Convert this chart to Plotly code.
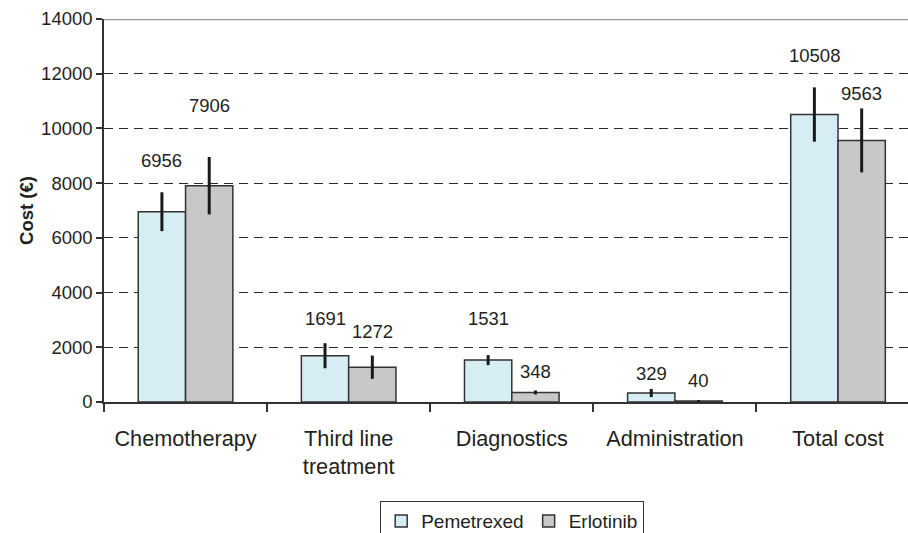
import plotly.graph_objects as go

categories = ["Chemotherapy", "Third line<br>treatment", "Diagnostics", "Administration", "Total cost"]
pemetrexed = [6956, 1691, 1531, 329, 10508]
erlotinib = [7906, 1272, 348, 40, 9563]
pem_err = [710, 457, 183, 150, 993]
erl_err = [1050, 426, 73, 30, 1170]
y_ticks = [0, 2000, 4000, 6000, 8000, 10000, 12000, 14000]

# label heights (text centres, in axis units) - layout only
pem_label_y = [8846, 3070, 3070, 1060, 12648]
erl_label_y = [10856, 2595, 1097, 804, 11295]

FONT = "Liberation Sans, Arial, sans-serif"
bargap = 0.42
half = (1 - bargap) / 4

fig = go.Figure()
fig.add_trace(go.Bar(
    name="Pemetrexed", x=categories, y=pemetrexed,
    marker=dict(color="#D5EDF3", line=dict(color="#333333", width=1.5)),
    error_y=dict(type="data", array=pem_err, visible=True, color="#1a1a1a", thickness=3, width=0),
))
fig.add_trace(go.Bar(
    name="Erlotinib", x=categories, y=erlotinib,
    marker=dict(color="#C8C8C9", line=dict(color="#333333", width=1.5)),
    error_y=dict(type="data", array=erl_err, visible=True, color="#1a1a1a", thickness=3, width=0),
))

annotations = []
for i in range(len(categories)):
    annotations.append(dict(x=i - half, y=pem_label_y[i], xref="x", yref="y", text=str(pemetrexed[i]),
                            showarrow=False, font=dict(family=FONT, size=18.5, color="#231f20")))
    annotations.append(dict(x=i + half, y=erl_label_y[i], xref="x", yref="y", text=str(erlotinib[i]),
                            showarrow=False, font=dict(family=FONT, size=18.5, color="#231f20")))

fig.update_layout(
    width=908, height=533,
    margin=dict(l=104, r=0, t=19, b=131, autoexpand=False),
    paper_bgcolor="white", plot_bgcolor="white",
    barmode="group", bargap=bargap, bargroupgap=0,
    font=dict(family=FONT, color="#231f20"),
    showlegend=True,
    legend=dict(orientation="h", x=380 / 908, xref="container", xanchor="left",
                y=(533 - 501) / 533, yref="container", yanchor="top",
                bordercolor="#333333", borderwidth=1.2, font=dict(size=19, family=FONT),
                itemwidth=30, tracegroupgap=0, entrywidth=0),
    annotations=annotations,
    shapes=[dict(type="line", xref="paper", yref="y", x0=0, x1=1, y0=14000, y1=14000,
                 line=dict(color="#9a9a9a", width=2.5))],
)
fig.update_xaxes(
    range=[-0.5, 4.429], showline=True, linecolor="#333333", linewidth=1.5,
    ticks="outside", tickson="boundaries", ticklen=8, tickcolor="#333333", tickwidth=1.5,
    tickfont=dict(size=21.7, family=FONT, color="#231f20"), showgrid=False,
    ticklabelstandoff=16, automargin=False,
)
fig.update_yaxes(
    range=[0, 14000], tickvals=y_ticks, tickformat="d", showline=True, linecolor="#333333", linewidth=1.5,
    ticks="outside", ticklen=6, tickcolor="#333333", tickwidth=1.5,
    tickfont=dict(size=18.5, family=FONT, color="#231f20"),
    showgrid=True, gridcolor="#2a2a2a", gridwidth=1.3, griddash="9px,6px",
    title=dict(text="<b>Cost (€)</b>", font=dict(size=18.5, family=FONT, color="#231f20"), standoff=3),
    zeroline=False, automargin=False,
)

fig.write_html("out.html", config={"displayModeBar": False},
               post_script="document.body.style.margin='0';")
